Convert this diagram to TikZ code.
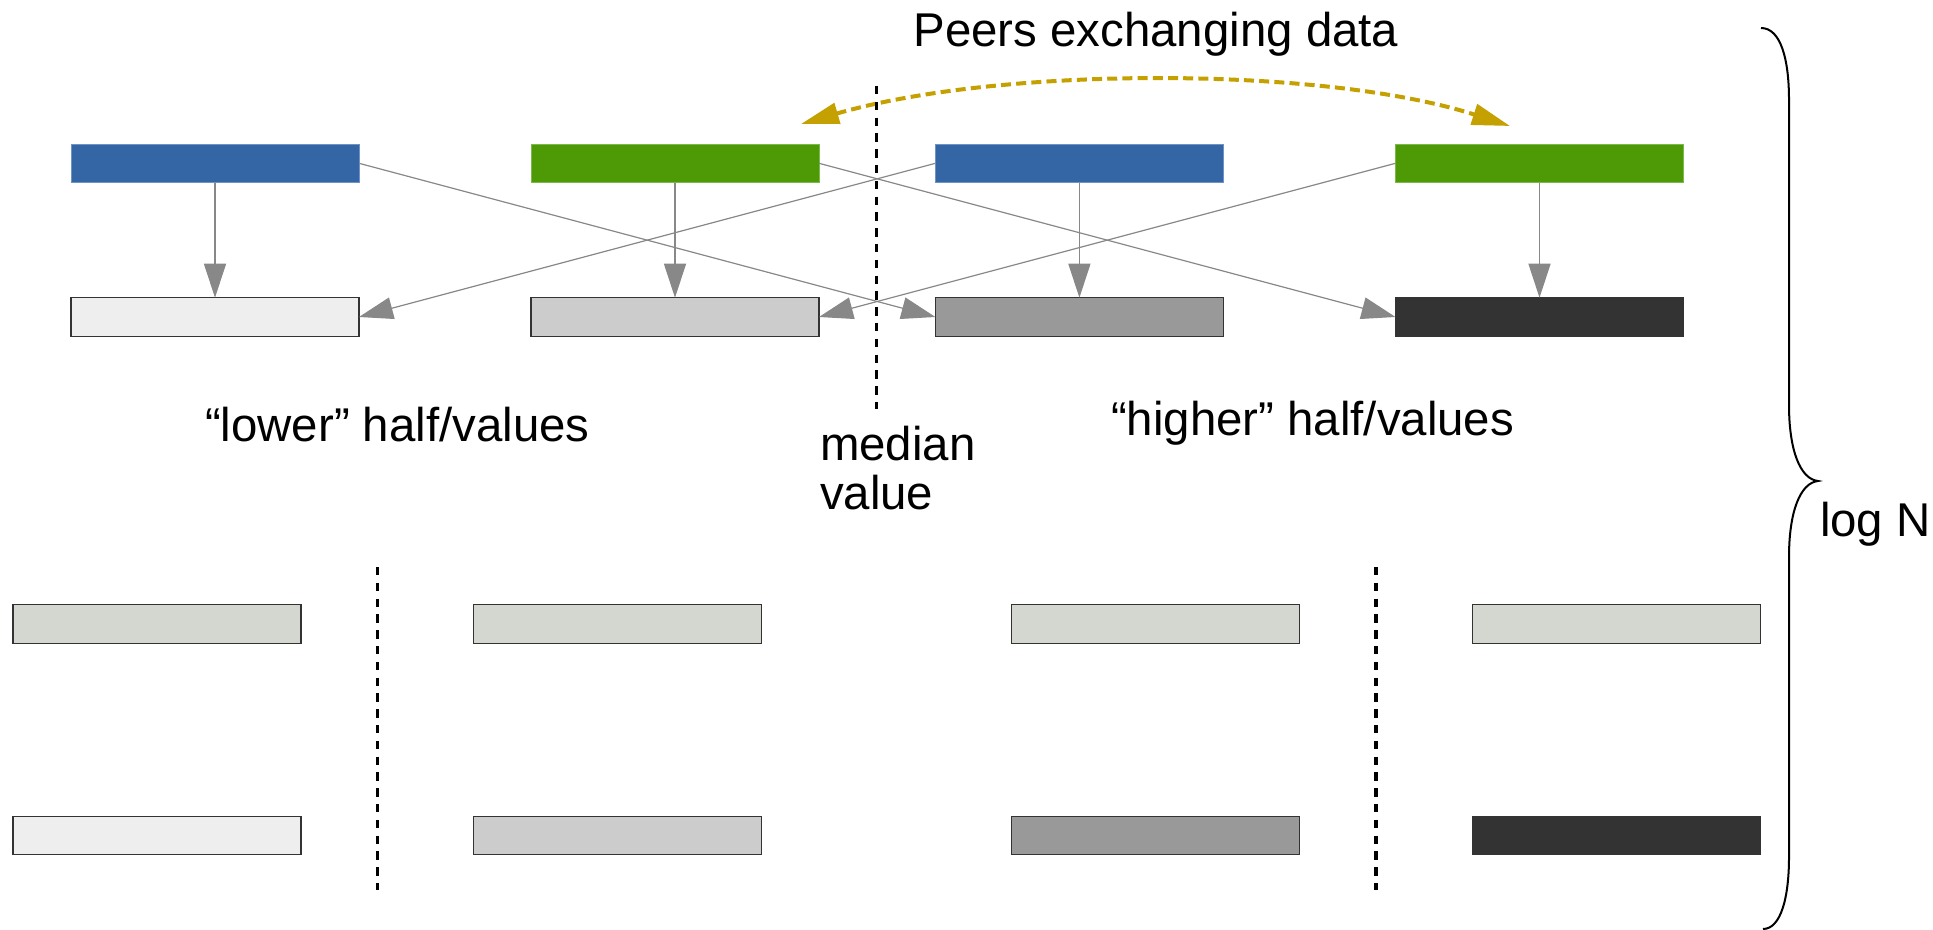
\documentclass[tikz,border=0pt]{standalone}
\usepackage{fontspec}
\setmainfont{Liberation Sans}
\usetikzlibrary{arrows.meta}

% Tango-style palette
\definecolor{skyblue}{HTML}{3465A4}
\definecolor{skyblueedge}{HTML}{6F93C4}
\definecolor{chameleon}{HTML}{4E9A06}
\definecolor{chameleonedge}{HTML}{7CB84A}
\definecolor{alu}{HTML}{D3D7CF}
\definecolor{shadeA}{HTML}{EEEEEE}
\definecolor{shadeB}{HTML}{CCCCCC}
\definecolor{shadeC}{HTML}{999999}
\definecolor{shadeD}{HTML}{333333}
\definecolor{butter}{HTML}{C4A000}
\definecolor{linkgray}{HTML}{888888}

\begin{document}
\begin{tikzpicture}[x=0.5pt,y=-0.5pt,
  bar/.style={rectangle, inner sep=0pt, outer sep=0pt,
              minimum width=144pt, minimum height=19.25pt},
  peer/.style={bar, fill=#1, draw=#1edge, line width=0.5pt},
  sorted/.style={bar, fill=#1, draw=black!80, line width=0.7pt},
  link/.style={draw=linkgray, line width=0.6pt,
               -{Triangle[length=17pt,width=11pt,fill=linkgray]}},
  exchange/.style={draw=butter, line width=2pt, dash pattern=on 5pt off 2.6pt,
               {Triangle[length=19pt,width=10.5pt]}-{Triangle[length=19pt,width=10.5pt]}},
  divider/.style={draw=black, line width=1.8pt, dash pattern=on 4.2pt off 3.7pt},
  label/.style={inner sep=0pt, outer sep=0pt,
                font=\fontsize{23.7pt}{24.5pt}\selectfont}
]
\useasboundingbox (0,0) rectangle (1933,930);

% first step: peers before the exchange
\node[peer=skyblue]   (a1) at (215,163.3)    {};
\node[peer=chameleon] (b1) at (675,163.3)    {};
\node[peer=skyblue]   (c1) at (1079.4,163.3) {};
\node[peer=chameleon] (d1) at (1539.5,163.3) {};

% first step: peers after the exchange
\node[sorted=shadeA] (a2) at (215,317)    {};
\node[sorted=shadeB] (b2) at (675,317)    {};
\node[sorted=shadeC] (c2) at (1079.4,317) {};
\node[sorted=shadeD] (d2) at (1539.5,317) {};

% last step
\node[sorted=alu] (e3) at (157,624)    {};
\node[sorted=alu] (f3) at (617.5,624)  {};
\node[sorted=alu] (g3) at (1155.4,624) {};
\node[sorted=alu] (h3) at (1616.3,624) {};

\node[sorted=shadeA] (e4) at (157,835.5)    {};
\node[sorted=shadeB] (f4) at (617.5,835.5)  {};
\node[sorted=shadeC] (g4) at (1155.4,835.5) {};
\node[sorted=shadeD] (h4) at (1616.3,835.5) {};

% data kept by each peer
\draw[link] (a1.south) -- (a2.north);
\draw[link] (b1.south) -- (b2.north);
\draw[link] (c1.south) -- (c2.north);
\draw[link] (d1.south) -- (d2.north);

% data sent across the median
\draw[link] (a1.east) -- (c2.west);
\draw[link] (b1.east) -- (d2.west);
\draw[link] (c1.west) -- (a2.east);
\draw[link] (d1.west) -- (b2.east);

% peers exchanging data
\coordinate (xl) at (801,124);
\coordinate (xr) at (1510,126);
\draw[exchange] (xl) .. controls (1000,66) and (1323,66) .. (xr);
\node[label, anchor=base] (title) at (1156,47) {Peers exchanging data};

% median separators
\coordinate (m1t) at (876.5,86);   \coordinate (m1b) at (876.5,409);
\coordinate (m2t) at (377.5,567);  \coordinate (m2b) at (377.5,890);
\coordinate (m3t) at (1376,567);   \coordinate (m3b) at (1376,890);
\draw[divider] (m1t) -- (m1b);
\draw[divider] (m2t) -- (m2b);
\draw[divider] (m3t) -- (m3b);

\node[label, anchor=base west] (lower)  at (205,442)  {“lower” half/values};
\node[label, anchor=base west] (higher) at (1111,436) {“higher” half/values};
\node[label, anchor=north west, align=left] (median) at (820,426) {median\\value};

% brace spanning all steps
\draw[line width=1pt, black]
  (1761,28) .. controls (1781,28) and (1789,60) .. (1789,100)
  -- (1789,405) .. controls (1789,450) and (1800,479) .. (1818,481)
  .. controls (1800,483) and (1789,512) .. (1789,557)
  -- (1789,857) .. controls (1789,897) and (1781,929) .. (1763,929);
\node[label, anchor=base west] (logn) at (1820,536) {log N};
\end{tikzpicture}
\end{document}
